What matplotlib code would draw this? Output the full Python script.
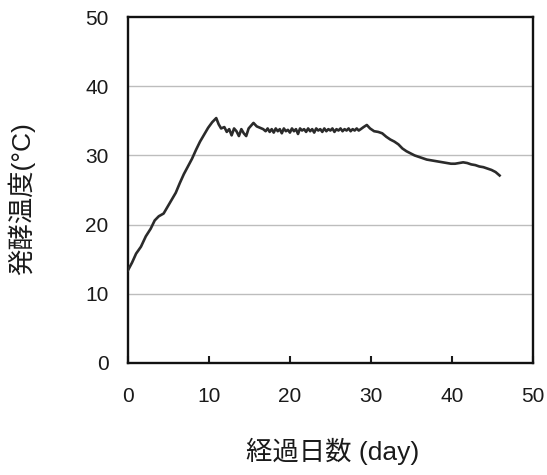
import matplotlib.pyplot as plt

plt.rcParams['font.family'] = ['Liberation Sans', 'Noto Sans CJK JP', 'DejaVu Sans']

# warm-up phase
rise_days = [0, 0.5, 1.0, 1.6, 2.2, 2.8, 3.3, 3.8, 4.4, 4.9, 5.4, 5.9, 6.4,
             6.9, 7.4, 7.9, 8.4, 8.9, 9.4, 9.9, 10.4, 10.9]
rise_temps = [13.4, 14.5, 15.8, 16.8, 18.3, 19.4, 20.6, 21.2, 21.6, 22.6,
              23.6, 24.6, 26.0, 27.3, 28.4, 29.5, 30.8, 32.0, 33.0, 34.0,
              34.8, 35.4]

# plateau
flat_days = [11.2, 11.5, 11.9, 12.2, 12.5, 12.8, 13.1, 13.4, 13.7, 14.0,
             14.3, 14.6, 14.9, 15.2, 15.5, 15.9, 16.3, 16.7, 17.0, 17.25,
             17.5, 17.75, 18.0, 18.25, 18.5, 18.75, 19.0, 19.25, 19.5, 19.75,
             20.0, 20.25, 20.5, 20.75, 21.0, 21.25, 21.5, 21.75, 22.0, 22.25,
             22.5, 22.75, 23.0, 23.25, 23.5, 23.75, 24.0, 24.25, 24.5, 24.75,
             25.0, 25.25, 25.5, 25.75, 26.0, 26.25, 26.5, 26.75, 27.0, 27.25,
             27.5, 27.75, 28.0, 28.25, 28.5, 28.75, 29.1, 29.5]
flat_temps = [34.5, 33.9, 34.1, 33.4, 33.8, 32.9, 33.9, 33.5, 32.8, 33.8,
              33.2, 32.8, 33.9, 34.3, 34.7, 34.2, 34.0, 33.8, 33.5, 33.9,
              33.4, 33.8, 33.3, 33.9, 33.5, 33.8, 33.2, 33.9, 33.5, 33.7,
              33.3, 33.9, 33.5, 33.8, 33.1, 33.9, 33.6, 33.8, 33.4, 33.9,
              33.5, 33.8, 33.3, 33.9, 33.6, 33.8, 33.4, 33.9, 33.5, 33.8,
              33.6, 33.9, 33.4, 33.8, 33.6, 33.9, 33.5, 33.8, 33.6, 33.9,
              33.5, 33.8, 33.6, 33.9, 33.6, 33.8, 34.1, 34.4]

# cooling phase
fall_days = [29.9, 30.4, 30.9, 31.4, 31.9, 32.4, 32.9, 33.4, 33.9, 34.4,
             34.9, 35.4, 35.9, 36.4, 36.9, 37.4, 37.9, 38.4, 38.9, 39.4,
             39.9, 40.4, 40.9, 41.4, 41.9, 42.4, 42.9, 43.4, 43.9, 44.4,
             44.9, 45.4, 45.9]
fall_temps = [33.9, 33.5, 33.4, 33.2, 32.7, 32.3, 32.0, 31.6, 31.0, 30.6,
              30.3, 30.0, 29.8, 29.6, 29.4, 29.3, 29.2, 29.1, 29.0, 28.9,
              28.8, 28.8, 28.9, 29.0, 28.9, 28.7, 28.6, 28.4, 28.3, 28.1,
              27.9, 27.6, 27.1]

days = rise_days + flat_days + fall_days
temps = rise_temps + flat_temps + fall_temps

xticks = [0, 10, 20, 30, 40, 50]
yticks = [0, 10, 20, 30, 40, 50]

fig = plt.figure(figsize=(5.47, 4.75), dpi=100)
ax = fig.add_axes([0.234, 0.236, 0.740, 0.728])

for y in yticks[1:-1]:
    ax.axhline(y, color='#bdbdbd', lw=1.0, zorder=1)

ax.plot(days, temps, color='#2b2b2b', lw=1.9, zorder=3)

ax.set_xlim(0, 50)
ax.set_ylim(0, 50)
ax.set_xticks(xticks)
ax.set_yticks(yticks)
ax.tick_params(axis='x', direction='in', length=5, width=1.5, pad=17,
               labelsize=15, colors='#1a1a1a')
ax.tick_params(axis='y', length=0, pad=14, labelsize=15, colors='#1a1a1a')

for s in ax.spines.values():
    s.set_linewidth(1.7)
    s.set_color('#111111')

fig.text(0.609, 0.05, '経過日数 (day)', fontsize=19, color='#1a1a1a',
         ha='center', va='center')
fig.text(0.04, 0.582, '発酵温度(°C)', fontsize=19, color='#1a1a1a',
         ha='center', va='center', rotation=90)

fig.savefig('out.png', dpi=100)
